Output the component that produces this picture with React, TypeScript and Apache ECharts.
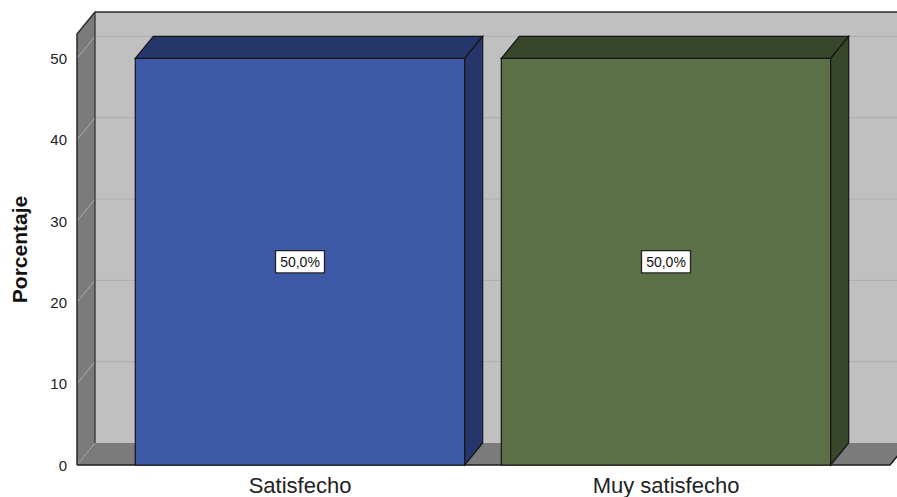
import React, { useEffect, useRef } from "react";
import * as echarts from "echarts";

const categories = ["Satisfecho", "Muy satisfecho"];
const percentages = [50, 50];
const yTicks = [0, 10, 20, 30, 40, 50];
const yAxisTitle = "Porcentaje";

const frontColors = ["#3e59a8", "#5b7046"];
const darkColors = ["#25366a", "#384629"];

const DX = 18;
const DY = -22;
const FONT = "'Liberation Sans', Arial, Helvetica, sans-serif";

export default function App() {
  const ref = useRef<HTMLDivElement>(null);

  useEffect(() => {
    if (!ref.current) return;
    const chart = echarts.init(ref.current, undefined, { renderer: "svg" });

    const wallsRender = (params: any, api: any) => {
      const cs = params.coordSys;
      const xL = cs.x - 40;
      const xR = cs.x + cs.width + 41;
      const top = cs.y;
      const y0 = cs.y + cs.height;
      const children: any[] = [];
      children.push({
        type: "polygon",
        shape: { points: [[xL + DX, top + DY], [xR + DX, top + DY], [xR + DX, y0 + DY], [xL + DX, y0 + DY]] },
        style: { fill: "#c0c0c0" },
      });
      children.push({
        type: "polygon",
        shape: { points: [[xL, y0], [xL + DX, y0 + DY], [xR + DX, y0 + DY], [xR, y0]] },
        style: { fill: "#7b7b7b" },
      });
      children.push({
        type: "polygon",
        shape: { points: [[xL, top], [xL + DX, top + DY], [xL + DX, y0 + DY], [xL, y0]] },
        style: { fill: "#7b7b7b" },
      });
      yTicks.forEach((t) => {
        if (t === 0) return;
        const yy = api.coord([0, t])[1];
        children.push({
          type: "polyline",
          shape: { points: [[xL, yy], [xL + DX, yy + DY], [xR + DX, yy + DY]] },
          style: { fill: null, stroke: "#adadad", lineWidth: 1 },
        });
      });
      children.push({
        type: "line",
        shape: { x1: xL, y1: y0, x2: xL + DX, y2: y0 + DY },
        style: { stroke: "#b0b0b0", lineWidth: 1, lineDash: [2, 2] },
      });
      children.push({
        type: "polyline",
        shape: { points: [[xL, y0], [xL, top], [xL + DX, top + DY], [xR + DX, top + DY]] },
        style: { fill: null, stroke: "#2a2a2a", lineWidth: 1.5 },
      });
      children.push({
        type: "line",
        shape: { x1: xL + DX, y1: top + DY, x2: xL + DX, y2: y0 + DY },
        style: { stroke: "#2a2a2a", lineWidth: 1.2 },
      });
      children.push({
        type: "polyline",
        shape: { points: [[xL, y0], [xR, y0], [xR + DX, y0 + DY]] },
        style: { fill: null, stroke: "#1e1e1e", lineWidth: 1.5 },
      });
      return { type: "group", children };
    };

    const barsRender = (params: any, api: any) => {
      const idx = api.value(0);
      const v = api.value(1);
      const base = api.coord([idx, 0]);
      const topPt = api.coord([idx, v]);
      const bw = api.size([1, 0])[0] * 0.9;
      const x0 = base[0] - bw / 2;
      const x1 = base[0] + bw / 2;
      const y0 = base[1];
      const y1 = topPt[1];
      const front = frontColors[params.dataIndex % frontColors.length];
      const dark = darkColors[params.dataIndex % darkColors.length];
      const stroke = "#151515";
      const labelText = v.toFixed(1).replace(".", ",") + "%";
      return {
        type: "group",
        children: [
          {
            type: "rect",
            shape: { x: x0, y: y1, width: bw, height: y0 - y1 },
            style: { fill: front, stroke, lineWidth: 1.2 },
          },
          {
            type: "polygon",
            shape: { points: [[x0, y1], [x0 + DX, y1 + DY], [x1 + DX, y1 + DY], [x1, y1]] },
            style: { fill: dark, stroke, lineWidth: 1.2 },
          },
          {
            type: "polygon",
            shape: { points: [[x1, y1], [x1 + DX, y1 + DY], [x1 + DX, y0 + DY], [x1, y0]] },
            style: { fill: dark, stroke, lineWidth: 1.2 },
          },
          {
            type: "text",
            x: base[0],
            y: api.coord([idx, v / 2])[1],
            style: {
              text: labelText,
              fontFamily: FONT,
              fontSize: 14,
              fill: "#111",
              align: "center",
              verticalAlign: "middle",
              backgroundColor: "#ffffff",
              borderColor: "#222",
              borderWidth: 1.3,
              padding: [4, 4, 3, 4],
            },
          },
        ],
      };
    };

    chart.setOption({
      animation: false,
      textStyle: { fontFamily: FONT },
      grid: { left: 117, top: 34, width: 732, height: 431 },
      xAxis: {
        type: "category",
        data: categories,
        axisLine: { show: false },
        axisTick: { show: false },
        splitLine: { show: false },
        axisLabel: { fontSize: 22, color: "#222", margin: 9, fontFamily: FONT },
      },
      yAxis: {
        type: "value",
        min: 0,
        max: 53,
        interval: 10,
        axisLine: { show: false },
        axisTick: { show: false },
        splitLine: { show: false },
        axisLabel: {
          fontSize: 15,
          color: "#222",
          margin: 50,
          fontFamily: FONT,
          formatter: (v: number) => (yTicks.includes(v) ? String(v) : ""),
        },
        name: yAxisTitle,
        nameLocation: "middle",
        nameRotate: 90,
        nameGap: 87,
        nameTextStyle: { fontSize: 21, fontWeight: "bold", color: "#111", fontFamily: FONT },
      },
      series: [
        {
          type: "custom",
          z: 1,
          silent: true,
          clip: false,
          renderItem: wallsRender,
          data: [[0, 0]],
          encode: { x: 0, y: 1 },
        },
        {
          type: "custom",
          z: 2,
          silent: true,
          clip: false,
          renderItem: barsRender,
          data: percentages.map((v, i) => [i, v]),
          encode: { x: 0, y: 1 },
        },
      ],
    });

    return () => chart.dispose();
  }, []);

  return (
    <div
      ref={ref}
      style={{ position: "fixed", left: 0, top: 0, width: 897, height: 497, background: "#fff" }}
    />
  );
}
